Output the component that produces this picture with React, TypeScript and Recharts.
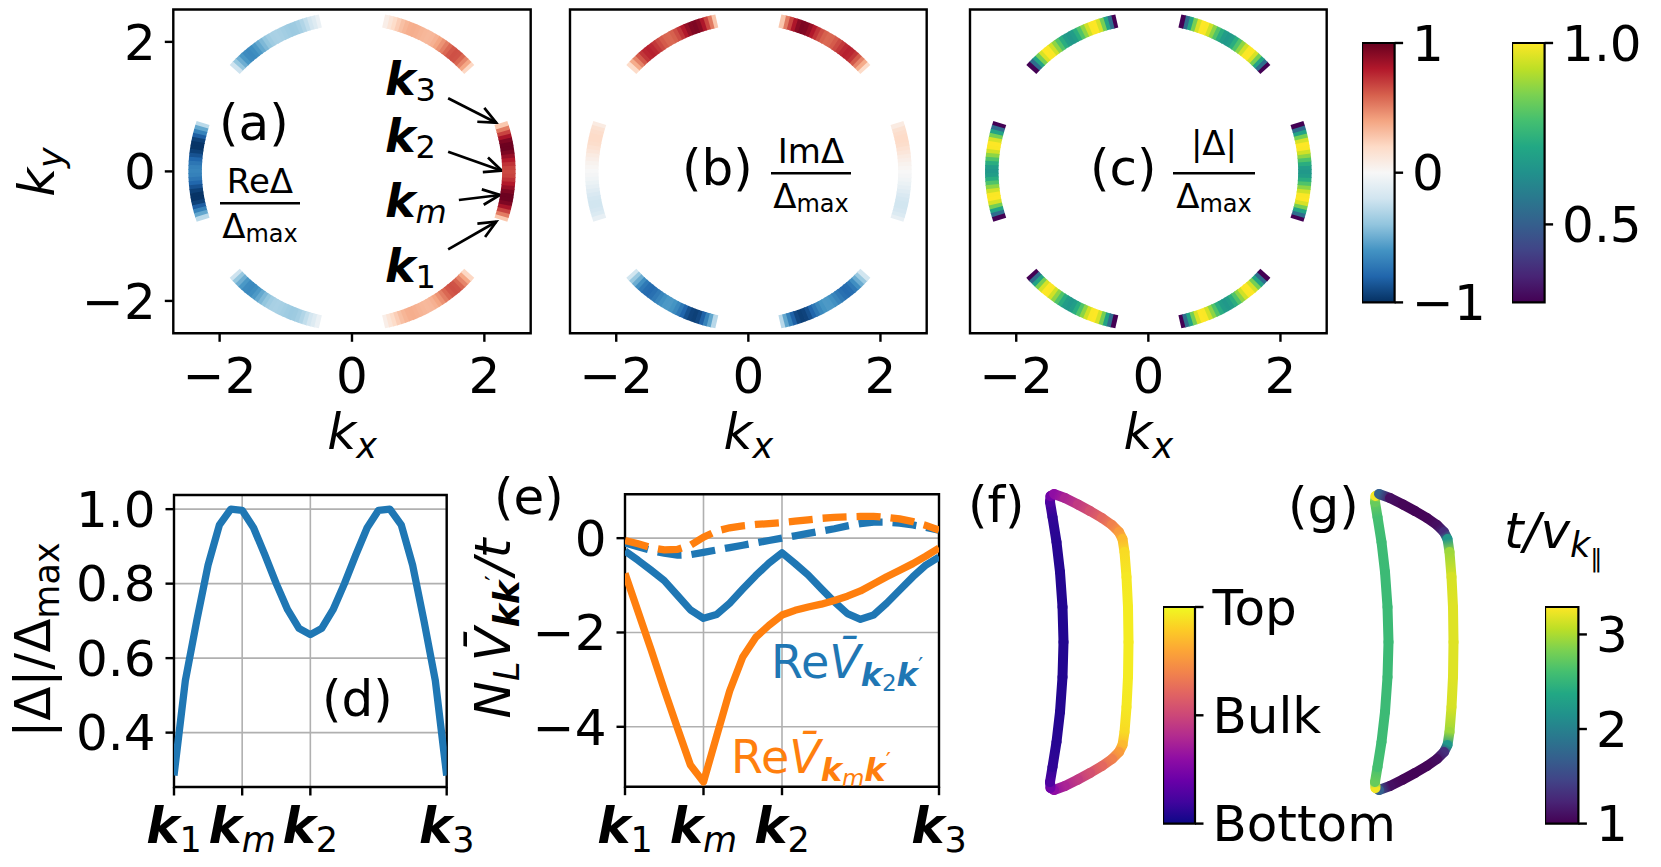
import React from 'react';
import {
  ScatterChart, Scatter, LineChart, Line, ComposedChart,
  XAxis, YAxis, CartesianGrid, ReferenceArea, ReferenceLine,
} from 'recharts';

const FONT = 'DejaVu Sans';
const BLUE = '#1f77b4';
const ORANGE = '#ff7f0e';

// ---------------- data ----------------
// path k1 -> km -> k2 -> k3 (normalised position along the Fermi arc)
const pathS = [0, 0.0417, 0.0833, 0.125, 0.1667, 0.2083, 0.25, 0.2917, 0.3333, 0.375, 0.4167, 0.4583, 0.5,
  0.5417, 0.5833, 0.625, 0.6667, 0.7083, 0.75, 0.7917, 0.8333, 0.875, 0.9167, 0.9583, 1];
const absDelta = [0.285, 0.54, 0.70, 0.85, 0.958, 1.0, 0.997, 0.95, 0.877, 0.80, 0.73, 0.68, 0.663,
  0.68, 0.73, 0.80, 0.877, 0.95, 0.997, 1.0, 0.958, 0.85, 0.70, 0.54, 0.285];
const reVk2 = [-0.27, -0.47, -0.68, -0.90, -1.21, -1.52, -1.70, -1.62, -1.38, -1.08, -0.79, -0.53, -0.31,
  -0.54, -0.78, -1.07, -1.35, -1.60, -1.72, -1.63, -1.38, -1.10, -0.82, -0.57, -0.40];
const imVk2 = [-0.10, -0.18, -0.26, -0.32, -0.36, -0.35, -0.30, -0.25, -0.20, -0.15, -0.10, -0.05, 0.0,
  0.05, 0.10, 0.15, 0.20, 0.26, 0.31, 0.34, 0.34, 0.32, 0.28, 0.23, 0.17];
const reVkm = [-0.75, -1.56, -2.37, -3.21, -4.02, -4.81, -5.17, -4.20, -3.24, -2.52, -2.10, -1.85, -1.63,
  -1.53, -1.46, -1.40, -1.32, -1.23, -1.12, -0.97, -0.82, -0.68, -0.54, -0.38, -0.21];
const imVkm = [-0.05, -0.12, -0.20, -0.25, -0.24, -0.15, 0.02, 0.15, 0.22, 0.26, 0.29, 0.31, 0.33,
  0.36, 0.39, 0.42, 0.44, 0.45, 0.46, 0.46, 0.44, 0.41, 0.35, 0.27, 0.17];
const pathTicks = [0, 0.25, 0.5, 1];
const pathTickSubs = ['1', 'm', '2', '3'];

// Fermi-surface arcs (panels a-c)
const arcCentersDeg = [0, 60, 120, 180, 240, 300];
const arcHalfWidthDeg = 17.5;
const fermiRadius = 2.37;
const kTicks = [-2, 0, 2];
const kDomainX = [-2.7, 2.7];
const kDomainY = [-2.5, 2.5];

// colour bars / axes
const reTicks = [-1, 0, 1];
const reRange = [-1, 1];
const absTicks = [0.5, 1.0];
const absRange = [0.285, 1.0];
const dTicks = [0.4, 0.6, 0.8, 1.0];
const dDomain = [0.254, 1.038];
const eTicks = [-4, -2, 0];
const eDomain = [-5.27, 0.93];

// pocket contour (panels f, g)
const loopU = [-0.265, -0.275, -0.30, -0.335, -0.375, -0.40, -0.395, -0.36, -0.25, -0.12, 0.0, 0.12, 0.22, 0.29,
  0.325, 0.345, 0.365, 0.38, 0.385, 0.38, 0.365, 0.345, 0.325, 0.29, 0.22, 0.12, 0.0, -0.12, -0.25, -0.36,
  -0.395, -0.40, -0.375, -0.335, -0.30, -0.275];
const loopV = [0.0, 0.35, 0.70, 1.00, 1.25, 1.40, 1.46, 1.48, 1.44, 1.375, 1.31, 1.24, 1.17, 1.10,
  1.03, 0.90, 0.65, 0.35, 0.0, -0.35, -0.65, -0.90, -1.03, -1.10, -1.17, -1.24, -1.31, -1.375, -1.44, -1.48,
  -1.46, -1.40, -1.25, -1.00, -0.70, -0.35];
const layerPol = [0.04, 0.04, 0.045, 0.05, 0.07, 0.13, 0.22, 0.30, 0.38, 0.46, 0.53, 0.61, 0.69, 0.77,
  0.85, 0.93, 0.96, 0.97, 0.97, 0.97, 0.96, 0.93, 0.85, 0.77, 0.69, 0.61, 0.53, 0.46, 0.38, 0.30,
  0.22, 0.13, 0.07, 0.05, 0.045, 0.04];
const invVel = [2.55, 2.55, 2.55, 2.56, 2.6, 2.75, 3.25, 1.7, 1.1, 1.03, 1.02, 1.03, 1.08, 1.3,
  2.2, 2.95, 3.15, 3.18, 3.18, 3.18, 3.15, 2.95, 2.2, 1.3, 1.08, 1.03, 1.02, 1.03, 1.1, 1.7,
  3.25, 2.75, 2.6, 2.56, 2.55, 2.55];
const layerTicks = [0, 0.5, 1];
const layerTickNames = ['Bottom', 'Bulk', 'Top'];
const layerRange = [0, 1];
const velTicks = [1, 2, 3];
const velRange = [1, 3.29];

// arrows in panel (a): tail -> head in (kx, ky)
const arrowTail = [[1.453, 1.129], [1.453, 0.304], [1.615, -0.442], [1.453, -1.203]];
const arrowHead = [[2.18, 0.752], [2.263, 0.011], [2.236, -0.364], [2.18, -0.777]];

// ---------------- colour maps ----------------
const RDBU_R = ['#053061', '#2166ac', '#4393c3', '#92c5de', '#d1e5f0', '#f7f7f7', '#fddbc7', '#f4a582', '#d6604d', '#b2182b', '#67001f'];
const VIRIDIS = ['#440154', '#482475', '#414487', '#355f8d', '#2a788e', '#21918c', '#22a884', '#44bf70', '#7ad151', '#bddf26', '#fde725'];
const PLASMA = ['#0d0887', '#41049d', '#6a00a8', '#8f0da4', '#b12a90', '#cc4778', '#e16462', '#f2844b', '#fca636', '#fcce25', '#f0f921'];

function hexRgb(h: string) {
  const n = parseInt(h.slice(1), 16);
  return [(n >> 16) & 255, (n >> 8) & 255, n & 255];
}
function cmap(stops: string[], t: number) {
  const tt = Math.max(0, Math.min(1, t));
  const p = tt * (stops.length - 1);
  const i = Math.min(Math.floor(p), stops.length - 2);
  const f = p - i;
  const a = hexRgb(stops[i]);
  const b = hexRgb(stops[i + 1]);
  const c = a.map((v, k) => Math.round(v + (b[k] - v) * f));
  return `rgb(${c[0]},${c[1]},${c[2]})`;
}
const norm = (v: number, r: number[]) => (v - r[0]) / (r[1] - r[0]);
const fmtNum = (v: number, d = 0) => (v < 0 ? '\u2212' : '') + Math.abs(v).toFixed(d);

// ---------------- layout ----------------
const TOP_Y0 = 9.5;
const TOP_Y1 = 333.3;
const TICK = 8.5;
const LW_AX = 2.4;
const LW_CURVE = 7.3;
const tickLineStyle = { stroke: '#000', strokeWidth: LW_AX };
const tickFont = { fontSize: 50, fill: '#000', fontFamily: FONT };
const ARC_W = 13.5;
const ARC_L = 4.8;

function buildArc(mode: string, pxx: number, pxy: number) {
  const pts: any[] = [];
  arcCentersDeg.forEach((c) => {
    pathS.forEach((s, i) => {
      const th = (c - arcHalfWidthDeg + 2 * arcHalfWidthDeg * s) * Math.PI / 180;
      const mag = absDelta[i];
      let color;
      if (mode === 're') color = cmap(RDBU_R, norm(mag * Math.cos(th), reRange));
      else if (mode === 'im') color = cmap(RDBU_R, norm(mag * Math.sin(th), reRange));
      else color = cmap(VIRIDIS, norm(mag, absRange));
      const rot = Math.atan2(-pxy * Math.sin(th), pxx * Math.cos(th)) * 180 / Math.PI;
      pts.push({ kx: fermiRadius * Math.cos(th), ky: fermiRadius * Math.sin(th), color, rot });
    });
  });
  return pts;
}

const ArcSeg = (props: any) => {
  const { cx, cy, payload } = props;
  if (cx == null || cy == null) return null;
  return (
    <rect x={-ARC_W / 2} y={-ARC_L / 2} width={ARC_W} height={ARC_L} fill={payload.color}
      transform={`translate(${cx},${cy}) rotate(${payload.rot})`} />
  );
};

const ArrowShape = (props: any) => {
  const { x1, y1, x2, y2 } = props;
  if (x1 == null || x2 == null) return null;
  const ang = Math.atan2(y2 - y1, x2 - x1);
  const L = 19;
  const a = 0.42;
  const p1 = [x2 - L * Math.cos(ang - a), y2 - L * Math.sin(ang - a)];
  const p2 = [x2 - L * Math.cos(ang + a), y2 - L * Math.sin(ang + a)];
  return (
    <g>
      <line x1={x1} y1={y1} x2={x2} y2={y2} stroke="#000" strokeWidth={2.7} />
      <polyline points={`${p1[0]},${p1[1]} ${x2},${y2} ${p2[0]},${p2[1]}`} fill="none" stroke="#000" strokeWidth={2.7} />
    </g>
  );
};

function ArcPanel({ x0, x1, mode, yLabels, arrows }: any) {
  const yW = yLabels ? x0 : 30;
  const left = x0 - yW;
  const rightW = 30;
  const H = 420;
  const W = yW + (x1 - x0) + rightW;
  const pxx = (x1 - x0) / (kDomainX[1] - kDomainX[0]);
  const pxy = (TOP_Y1 - TOP_Y0) / (kDomainY[1] - kDomainY[0]);
  const pts = buildArc(mode, pxx, pxy);
  return (
    <div style={{ position: 'absolute', left, top: 0 }}>
      <ScatterChart width={W} height={H} margin={{ top: TOP_Y0, right: 0, bottom: 0, left: 0 }}>
        <XAxis type="number" dataKey="kx" domain={kDomainX} ticks={kTicks} allowDataOverflow interval={0}
          tickFormatter={(v: number) => fmtNum(v)} tick={tickFont} tickSize={TICK} tickMargin={16}
          tickLine={tickLineStyle} axisLine={false} height={H - TOP_Y1} />
        <YAxis yAxisId="l" type="number" dataKey="ky" domain={kDomainY} ticks={kTicks} allowDataOverflow interval={0}
          tickFormatter={(v: number) => fmtNum(v)} tick={yLabels ? tickFont : false} tickSize={TICK} tickMargin={9}
          tickLine={tickLineStyle} axisLine={false} width={yW} />
        <YAxis yAxisId="r" orientation="right" type="number" domain={kDomainY} ticks={kTicks} allowDataOverflow interval={0}
          tick={false} tickSize={TICK} tickLine={tickLineStyle} axisLine={false} width={rightW} />
        <Scatter yAxisId="l" data={pts} shape={ArcSeg} isAnimationActive={false} />
        <ReferenceArea yAxisId="l" x1={kDomainX[0]} x2={kDomainX[1]} y1={kDomainY[0]} y2={kDomainY[1]}
          fill="none" fillOpacity={0} stroke="#000" strokeWidth={LW_AX} ifOverflow="visible" />
        {arrows && arrowTail.map((t, i) => (
          <ReferenceLine key={i} yAxisId="l" ifOverflow="visible"
            segment={[{ x: t[0], y: t[1] }, { x: arrowHead[i][0], y: arrowHead[i][1] }]}
            shape={ArrowShape} />
        ))}
      </ScatterChart>
    </div>
  );
}

function Colorbar({ id, x0, x1, y0, y1, stops, domain, ticks, fmt }: any) {
  const PAD = 30;
  const axW = 200;
  const W = (x1 - x0) + axW;
  const H = (y1 - y0) + 2 * PAD;
  return (
    <div style={{ position: 'absolute', left: x0, top: y0 - PAD }}>
      <ComposedChart width={W} height={H} margin={{ top: PAD, right: 0, bottom: PAD, left: 0 }} data={[{ x: 0 }, { x: 1 }]}>
        <defs>
          <linearGradient id={id} x1="0" y1="1" x2="0" y2="0">
            {stops.map((c: string, i: number) => (
              <stop key={i} offset={i / (stops.length - 1)} stopColor={c} />
            ))}
          </linearGradient>
        </defs>
        <XAxis type="number" dataKey="x" domain={[0, 1]} hide />
        <YAxis orientation="right" type="number" domain={domain} ticks={ticks} allowDataOverflow interval={0}
          tickFormatter={fmt} tick={tickFont} tickSize={TICK} tickMargin={9}
          tickLine={tickLineStyle} axisLine={false} width={axW} />
        <ReferenceArea x1={0} x2={1} y1={domain[0]} y2={domain[1]} fill={`url(#${id})`} fillOpacity={1}
          stroke="#000" strokeWidth={2.2} ifOverflow="visible" />
      </ComposedChart>
    </div>
  );
}

const pathData = pathS.map((s, i) => ({
  s, absDelta: absDelta[i], reVk2: reVk2[i], imVk2: imVk2[i], reVkm: reVkm[i], imVkm: imVkm[i],
}));

const KTick = (props: any) => {
  const { x, y, payload } = props;
  const idx = pathTicks.indexOf(payload.value);
  const sub = pathTickSubs[idx] ?? '';
  return (
    <text x={x} y={y + 45.5} textAnchor="middle" fontFamily={FONT} fontSize={50} fill="#000">
      <tspan fontWeight="bold" fontStyle="italic">k</tspan>
      <tspan fontSize={35} dy={9} fontStyle={sub === 'm' ? 'italic' : 'normal'}>{sub}</tspan>
    </text>
  );
};

function PathPanel({ left, yW, x0, x1, y0, y1, domain, ticks, fmt, children }: any) {
  const top = 440;
  const H = 427;
  const rightM = 60;
  const W = yW + (x1 - x0) + rightM;
  return (
    <div style={{ position: 'absolute', left, top }}>
      <LineChart width={W} height={H} data={pathData} margin={{ top: y0 - top, right: rightM, bottom: 0, left: 0 }}>
        <CartesianGrid stroke="#b0b0b0" strokeWidth={1.6} />
        <XAxis type="number" dataKey="s" domain={[0, 1]} ticks={pathTicks} allowDataOverflow interval={0}
          tick={<KTick />} tickSize={TICK} tickLine={tickLineStyle} axisLine={false} height={top + H - y1} />
        <YAxis type="number" domain={domain} ticks={ticks} allowDataOverflow interval={0}
          tickFormatter={fmt} tick={tickFont} tickSize={TICK} tickMargin={10}
          tickLine={tickLineStyle} axisLine={false} width={yW} />
        {children}
        <ReferenceArea x1={0} x2={1} y1={domain[0]} y2={domain[1]} fill="none" fillOpacity={0}
          stroke="#000" strokeWidth={LW_AX} ifOverflow="visible" />
      </LineChart>
    </div>
  );
}

const LOOP_S = 100;
const LoopSeg = (props: any) => {
  const { cx, cy, payload } = props;
  if (cx == null || cy == null) return null;
  const x2 = cx + payload.du * LOOP_S;
  const y2 = cy - payload.dv * LOOP_S;
  return (
    <g>
      <defs>
        <linearGradient id={payload.id} gradientUnits="userSpaceOnUse" x1={cx} y1={cy} x2={x2} y2={y2}>
          <stop offset="0" stopColor={payload.c0} />
          <stop offset="1" stopColor={payload.c1} />
        </linearGradient>
      </defs>
      <line x1={cx} y1={cy} x2={x2} y2={y2} stroke={`url(#${payload.id})`} strokeWidth={10} strokeLinecap="round" />
    </g>
  );
};

function LoopPanel({ left, id, values, stops, range }: any) {
  const n = loopU.length;
  const pts = loopU.map((u, i) => {
    const j = (i + 1) % n;
    return {
      u, v: loopV[i], du: loopU[j] - u, dv: loopV[j] - loopV[i], id: `${id}seg${i}`,
      c0: cmap(stops, norm(values[i], range)), c1: cmap(stops, norm(values[j], range)),
    };
  });
  return (
    <div style={{ position: 'absolute', left, top: 481.7 }}>
      <ScatterChart width={120} height={320} margin={{ top: 0, right: 0, bottom: 0, left: 0 }}>
        <XAxis type="number" dataKey="u" domain={[-0.6, 0.6]} hide allowDataOverflow />
        <YAxis type="number" dataKey="v" domain={[-1.6, 1.6]} hide allowDataOverflow />
        <Scatter data={pts} shape={LoopSeg} isAnimationActive={false} />
      </ScatterChart>
    </div>
  );
}

function Overlay() {
  const base: any = { fontFamily: FONT, fill: '#000' };
  const panelLabels = [
    { t: '(a)', x: 219, y: 140 }, { t: '(b)', x: 682, y: 185 }, { t: '(c)', x: 1090, y: 185 },
    { t: '(d)', x: 322, y: 715.5 }, { t: '(e)', x: 494, y: 513.5 }, { t: '(f)', x: 968, y: 522 },
    { t: '(g)', x: 1288, y: 523 },
  ];
  const fracs = [
    { num: 'Re\u0394', cx: 260, bar: 203.3, half: 40, nd: 10.3 },
    { num: 'Im\u0394', cx: 811, bar: 173.3, half: 40, nd: 10.3 },
    { num: '|\u0394|', cx: 1214, bar: 173.3, half: 41, nd: 18 },
  ];
  const kLabs = [{ s: '3', y: 95 }, { s: '2', y: 151.7 }, { s: 'm', y: 216.7 }, { s: '1', y: 281.7 }];
  return (
    <svg width={1661} height={867} style={{ position: 'absolute', left: 0, top: 0, pointerEvents: 'none' }}>
      <text {...base} fontSize={50} textAnchor="middle" transform="translate(54,172) rotate(-90)">
        <tspan fontStyle="italic">k</tspan><tspan fontStyle="italic" fontSize={35} dy={9}>y</tspan>
      </text>
      {[352, 748.35, 1148.35].map((cx) => (
        <text key={cx} {...base} x={cx} y={449} fontSize={50} textAnchor="middle">
          <tspan fontStyle="italic">k</tspan><tspan fontStyle="italic" fontSize={35} dy={9}>x</tspan>
        </text>
      ))}
      {panelLabels.map((p) => (
        <text key={p.t} {...base} x={p.x} y={p.y} fontSize={50}>{p.t}</text>
      ))}
      {fracs.map((f) => (
        <g key={f.num}>
          <text {...base} x={f.cx} y={f.bar - f.nd} fontSize={34} textAnchor="middle">{f.num}</text>
          <line x1={f.cx - f.half} x2={f.cx + f.half} y1={f.bar} y2={f.bar} stroke="#000" strokeWidth={2.5} />
          <text {...base} x={f.cx} y={f.bar + 34.7} fontSize={34} textAnchor="middle">
            <tspan>{'\u0394'}</tspan><tspan fontSize={24} dy={4}>max</tspan>
          </text>
        </g>
      ))}
      {kLabs.map((k) => (
        <text key={k.s} {...base} x={385} y={k.y} fontSize={46}>
          <tspan fontWeight="bold" fontStyle="italic">k</tspan>
          <tspan fontSize={32} dy={6} fontStyle={k.s === 'm' ? 'italic' : 'normal'}>{k.s}</tspan>
        </text>
      ))}
      <text {...base} fontSize={50} textAnchor="middle" transform="translate(50,640) rotate(-90)">
        <tspan>{'|\u0394|/\u0394'}</tspan><tspan fontSize={35} dy={9}>max</tspan>
      </text>
      <text {...base} fontSize={50} textAnchor="middle" transform="translate(510,628.5) rotate(-90)">
        <tspan fontStyle="italic">N</tspan>
        <tspan fontStyle="italic" fontSize={35} dy={9}>L</tspan>
        <tspan fontStyle="italic" dy={-9}>{'V\u0304'}</tspan>
        <tspan fontStyle="italic" fontWeight="bold" fontSize={35} dy={9}>kk</tspan>
        <tspan fontSize={25} dy={-16}>{'\u2032'}</tspan>
        <tspan fontStyle="italic" dy={7}>/t</tspan>
      </text>
      <text fontFamily={FONT} fill={BLUE} x={771} y={678} fontSize={46}>
        <tspan>Re</tspan><tspan fontStyle="italic">{'V\u0304'}</tspan>
        <tspan fontSize={32} fontWeight="bold" fontStyle="italic" dy={8}>k</tspan>
        <tspan fontSize={23} dy={5}>2</tspan>
        <tspan fontSize={32} fontWeight="bold" fontStyle="italic" dy={-5}>k</tspan>
        <tspan fontSize={23} dy={-12}>{'\u2032'}</tspan>
      </text>
      <text fontFamily={FONT} fill={ORANGE} x={731} y={773} fontSize={46}>
        <tspan>Re</tspan><tspan fontStyle="italic">{'V\u0304'}</tspan>
        <tspan fontSize={32} fontWeight="bold" fontStyle="italic" dy={8}>k</tspan>
        <tspan fontSize={23} fontStyle="italic" dy={5}>m</tspan>
        <tspan fontSize={32} fontWeight="bold" fontStyle="italic" dy={-5}>k</tspan>
        <tspan fontSize={23} dy={-12}>{'\u2032'}</tspan>
      </text>
      <text {...base} x={1504} y={548} fontSize={50}>
        <tspan fontStyle="italic">t/v</tspan>
        <tspan fontStyle="italic" fontSize={35} dy={9}>k</tspan>
        <tspan fontSize={25} dy={10}>{'\u2225'}</tspan>
      </text>
    </svg>
  );
}

export default function App() {
  return (
    <div style={{ position: 'absolute', left: 0, top: 0, width: 1661, height: 867, background: '#fff', overflow: 'hidden', fontFamily: FONT }}>
      <ArcPanel x0={173.3} x1={530.7} mode="re" yLabels arrows />
      <ArcPanel x0={570} x1={926.7} mode="im" />
      <ArcPanel x0={970} x1={1326.7} mode="abs" />
      <Colorbar id="cbRe" x0={1361.7} x1={1394.3} y0={43.3} y1={302.7} stops={RDBU_R} domain={reRange} ticks={reTicks}
        fmt={(v: number) => fmtNum(v)} />
      <Colorbar id="cbAbs" x0={1511.7} x1={1544.3} y0={43.3} y1={302.7} stops={VIRIDIS} domain={absRange} ticks={absTicks}
        fmt={(v: number) => v.toFixed(1)} />
      <PathPanel left={0} yW={174} x0={174} x1={446.7} y0={495} y1={787} domain={dDomain} ticks={dTicks}
        fmt={(v: number) => v.toFixed(1)}>
        <Line type="linear" dataKey="absDelta" stroke={BLUE} strokeWidth={LW_CURVE} dot={false} strokeLinejoin="round" isAnimationActive={false} />
      </PathPanel>
      <PathPanel left={480} yW={145} x0={625} x1={939} y0={494.3} y1={786.7} domain={eDomain} ticks={eTicks}
        fmt={(v: number) => fmtNum(v)}>
        <Line type="linear" dataKey="reVk2" stroke={BLUE} strokeWidth={LW_CURVE} dot={false} strokeLinejoin="round" isAnimationActive={false} />
        <Line type="linear" dataKey="imVk2" stroke={BLUE} strokeWidth={LW_CURVE} strokeDasharray="24 10" dot={false} isAnimationActive={false} />
        <Line type="linear" dataKey="reVkm" stroke={ORANGE} strokeWidth={LW_CURVE} dot={false} strokeLinejoin="round" isAnimationActive={false} />
        <Line type="linear" dataKey="imVkm" stroke={ORANGE} strokeWidth={LW_CURVE} strokeDasharray="24 10" dot={false} isAnimationActive={false} />
      </PathPanel>
      <LoopPanel left={1030} id="f" values={layerPol} stops={PLASMA} range={layerRange} />
      <LoopPanel left={1355} id="g" values={invVel} stops={VIRIDIS} range={velRange} />
      <Colorbar id="cbLayer" x0={1163} x1={1195} y0={606.7} y1={823.3} stops={PLASMA} domain={layerRange} ticks={layerTicks}
        fmt={(v: number) => layerTickNames[layerTicks.indexOf(v)]} />
      <Colorbar id="cbVel" x0={1544.6} x1={1578} y0={606.7} y1={823.3} stops={VIRIDIS} domain={velRange} ticks={velTicks}
        fmt={(v: number) => String(v)} />
      <Overlay />
    </div>
  );
}
